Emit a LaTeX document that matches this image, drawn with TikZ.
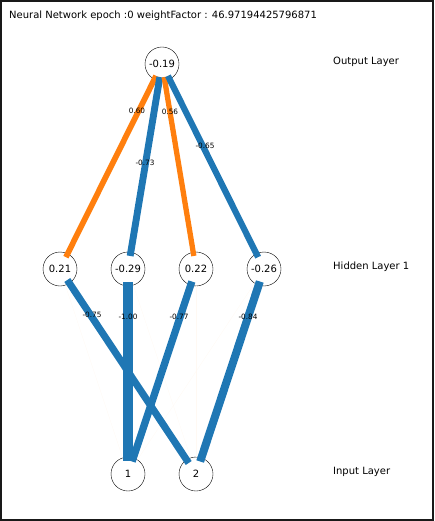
\documentclass[tikz,border=0pt]{standalone}
\usepackage{fontspec}
\setmainfont{DejaVu Sans}
\definecolor{nnblue}{RGB}{31,119,180}
\definecolor{nnorange}{RGB}{255,127,14}
\usetikzlibrary{positioning}

\begin{document}
\begin{tikzpicture}[x=1pt, y=-1pt,
  neuron/.style={draw=black, fill=white, circle, minimum size=34pt, inner sep=0pt,
    font=\fontsize{10}{12}\selectfont},
  layerlabel/.style={anchor=west, inner sep=0pt, font=\fontsize{10}{12}\selectfont},
  wlabel/.style={inner sep=0pt, font=\fontsize{7.3}{8}\selectfont},
  synapse/.style={line cap=butt, shorten <=-4pt, shorten >=-4pt},
  posedge/.style={synapse, draw=nnorange},
  negedge/.style={synapse, draw=nnblue},
  faintedge/.style={draw=nnorange!5, line width=0.3pt}]

\useasboundingbox (0,0) rectangle (434,521);
\draw[line width=2pt, black!90] (1,1) rectangle (433,520);

\node[anchor=west, inner sep=0pt, font=\fontsize{10}{12}\selectfont] (title) at (9,15.5)
  {Neural Network epoch :0 weightFactor : 46.97194425796871};

% Neurons
\node[neuron] (o1) at (162,64) {-0.19};
\node[neuron] (h1) at (60,269) {0.21};
\node[neuron] (h2) at (128,269) {-0.29};
\node[neuron] (h3) at (196,269) {0.22};
\node[neuron] (h4) at (264,269) {-0.26};
\node[neuron] (i1) at (128,474) {1};
\node[neuron] (i2) at (196,474) {2};

% Layer names
\node[layerlabel] (lo) at (333,61.5) {Output Layer};
\node[layerlabel] (lh) at (333,266.5) {Hidden Layer 1};
\node[layerlabel] (li) at (333,471.5) {Input Layer};

% Hidden -> output
\draw[posedge, line width=5.7pt] (h1) -- (o1);
\draw[negedge, line width=6.9pt] (h2) -- (o1);
\draw[posedge, line width=5.3pt] (h3) -- (o1);
\draw[negedge, line width=6.2pt] (h4) -- (o1);

% Input -> hidden
\draw[faintedge] (i1) -- (h1);
\draw[faintedge] (i2) -- (h2);
\draw[faintedge] (i2) -- (h3);
\draw[faintedge] (i1) -- (h4);
\draw[negedge, line width=7.1pt] (i2) -- (h1);
\draw[negedge, line width=9.5pt] (i1) -- (h2);
\draw[negedge, line width=7.3pt] (i1) -- (h3);
\draw[negedge, line width=8.0pt] (i2) -- (h4);

% Weights
\node[wlabel] (w1) at (137,111) {0.60};
\node[wlabel] (w2) at (170,112) {0.56};
\node[wlabel] (w3) at (145,163) {-0.73};
\node[wlabel] (w4) at (205,146) {-0.65};
\node[wlabel] (w5) at (92,315) {-0.75};
\node[wlabel] (w6) at (128,317) {-1.00};
\node[wlabel] (w7) at (179,317) {-0.77};
\node[wlabel] (w8) at (248,317) {-0.84};

\end{tikzpicture}
\end{document}
